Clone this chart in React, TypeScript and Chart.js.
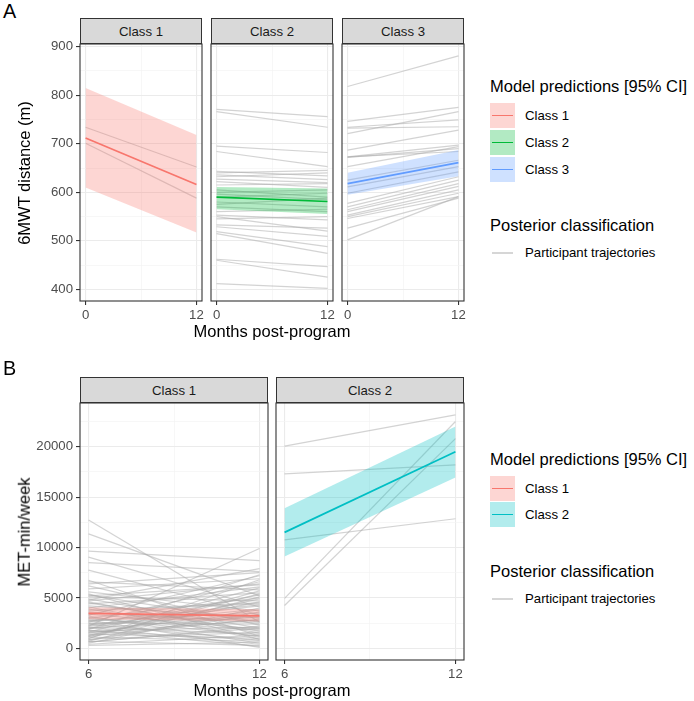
import React, { useEffect, useRef } from "react";
import { Chart, registerables } from "chart.js";
Chart.register(...registerables);

const FONT = '"Liberation Sans", Arial, Helvetica, sans-serif';

// ---------- Panel A: 6MWT distance ----------
const monthsA = [0, 12];
const xTicksA = [0, 6, 12];
const xLabelsA = [0, 12];
const yTicksA = [400, 450, 500, 550, 600, 650, 700, 750, 800, 850, 900];
const yLabelsA = [400, 500, 600, 700, 800, 900];

const a1Pred = [712, 616];
const a1Lo = [610, 517];
const a1Hi = [815, 718];
const a1Start = [734, 701];
const a1End = [652, 588];

const a2Pred = [590, 581];
const a2Lo = [565, 555];
const a2Hi = [611, 608];
const a2Start = [771, 766, 695, 684, 643, 640, 636, 632, 627, 622, 615, 605, 600, 596, 590, 580, 575, 570, 560, 553, 550, 545, 533, 529, 519, 515, 462, 460, 412];
const a2End = [756, 734, 682, 653, 634, 645, 626, 640, 620, 610, 618, 590, 605, 585, 598, 570, 588, 560, 565, 543, 520, 550, 526, 509, 488, 474, 447, 425, 402];

const a3Pred = [618, 661];
const a3Lo = [595, 633];
const a3Hi = [640, 687];
const a3Start = [818, 746, 732, 721, 734, 687, 673, 672, 673, 653, 625, 611, 598, 577, 570, 564, 560, 553, 550, 546, 526, 502];
const a3End = [881, 775, 735, 766, 749, 728, 697, 690, 684, 694, 666, 653, 642, 632, 625, 618, 612, 605, 598, 591, 588, 591];

// ---------- Panel B: MET-min/week ----------
const monthsB = [6, 12];
const xTicksB = [6, 9, 12];
const xLabelsB = [6, 12];
const yTicksB = [0, 2500, 5000, 7500, 10000, 12500, 15000, 17500, 20000, 22500];
const yLabelsB = [0, 5000, 10000, 15000, 20000];

const b1Pred = [3470, 3210];
const b1Lo = [2880, 2650];
const b1Hi = [4070, 3870];
const b1Start = [12730, 11350, 9650, 9050, 8500, 7750, 6750, 6600, 6400, 6200, 5900, 5600, 5400, 5200, 5100, 4900, 4800, 4600, 4400, 4200, 4000, 3900, 3700, 3500, 3300, 3200, 3000, 2900, 2750, 2600, 2500, 2400, 2300, 2200, 2100, 2000, 1900, 1800, 1700, 1600, 1500, 1400, 1300, 1200, 1100, 1000, 900, 800, 700, 600, 500, 400, 300, 1900, 2800, 3600, 1250, 4500, 2200, 700, 3400, 2650, 1550, 4100, 850, 5300, 2050, 1150, 3050, 4700, 650, 1750, 2450, 3800, 950];
const b1End = [2600, 5200, 8700, 4100, 7600, 3300, 1200, 5800, 7500, 2300, 6900, 3700, 900, 6300, 4700, 2000, 7900, 1500, 5500, 3000, 6100, 1100, 4400, 2700, 7200, 500, 5000, 1800, 3500, 6600, 2400, 800, 4200, 9900, 1400, 3100, 5300, 200, 2100, 6000, 3800, 1000, 4600, 2900, 700, 5700, 1600, 3400, 300, 2200, 4000, 1300, 600, 7300, 100, 2500, 4900, 1700, 3900, 5100, 1900, 4300, 2800, 900, 3600, 2600, 400, 5400, 1200, 6400, 2000, 800, 3200, 4500, 6800];

const b2Pred = [11500, 19500];
const b2Lo = [9100, 16950];
const b2Hi = [13900, 22000];
const b2Start = [20050, 17300, 10750, 4950, 4250];
const b2End = [23150, 18200, 12850, 22500, 20800];

const COL1 = "#F8766D";
const COL2A = "#00BA38";
const COL3A = "#619CFF";
const COL2B = "#00BFC4";
const alpha = (hex: string, a: number) => {
  const n = parseInt(hex.slice(1), 16);
  return `rgba(${(n >> 16) & 255},${(n >> 8) & 255},${n & 255},${a})`;
};
const TRAJ = "rgba(170,170,170,0.52)";
const GRID_MAJ = "#EBEBEB";
const GRID_MIN = "#F3F3F3";

const borderPlugin = {
  id: "panelBorder",
  afterDraw(chart: any) {
    const { ctx, chartArea: a } = chart;
    ctx.save();
    ctx.strokeStyle = "#333333";
    ctx.lineWidth = 1.1;
    ctx.strokeRect(a.left, a.top, a.right - a.left, a.bottom - a.top);
    ctx.restore();
  },
};

type FacetProps = {
  left: number; top: number; w: number; h: number; axisW: number;
  xs: number[]; xMin: number; xMax: number; xTicks: number[]; xLabels: number[];
  yMin: number; yMax: number; yTicks: number[]; yLabels: number[];
  starts: number[]; ends: number[]; pred: number[]; lo: number[]; hi: number[];
  color: string;
};

function Facet(p: FacetProps) {
  const ref = useRef<HTMLCanvasElement>(null);
  const PADL = p.axisW ? 0 : 4;
  const PADR = 12;
  const PADT = 4;
  const XH = 26;
  const cw = p.axisW + PADL + p.w + PADR;
  const ch = PADT + p.h + XH;
  useEffect(() => {
    const pts = (ys: number[]) => p.xs.map((x, i) => ({ x, y: ys[i] }));
    const traj = p.starts.map((s, i) => ({
      data: [{ x: p.xs[0], y: s }, { x: p.xs[1], y: p.ends[i] }],
      borderColor: TRAJ, borderWidth: 1.2, pointRadius: 0, fill: false, order: 2,
    }));
    const majX = (v: any) => p.xLabels.includes(v);
    const majY = (v: any) => p.yLabels.includes(v);
    const showY = p.axisW > 0;
    const chart = new Chart(ref.current as HTMLCanvasElement, {
      type: "line",
      data: {
        datasets: [
          { data: pts(p.pred), borderColor: p.color, borderWidth: 1.7, pointRadius: 0, fill: false, order: 0 },
          { data: pts(p.hi), borderWidth: 0, borderColor: "rgba(0,0,0,0)", pointRadius: 0, backgroundColor: alpha(p.color, 0.3), fill: "+1", order: 1 },
          { data: pts(p.lo), borderWidth: 0, borderColor: "rgba(0,0,0,0)", pointRadius: 0, fill: false, order: 1 },
          ...traj,
        ] as any,
      },
      options: {
        animation: false,
        responsive: false,
        devicePixelRatio: 1,
        layout: { padding: { left: PADL, right: PADR, top: PADT, bottom: 0 } },
        plugins: { legend: { display: false }, tooltip: { enabled: false } },
        elements: { line: { tension: 0 } },
        scales: {
          x: {
            type: "linear", min: p.xMin, max: p.xMax,
            afterBuildTicks: (s: any) => { s.ticks = p.xTicks.map((v) => ({ value: v })); },
            afterFit: (s: any) => { s.height = XH; s.paddingLeft = 0; s.paddingRight = 0; },
            ticks: {
              autoSkip: false, maxRotation: 0, minRotation: 0, padding: 2, color: "#4D4D4D",
              font: { family: FONT, size: 13.2 },
              callback: (v: any) => (majX(v) ? String(v) : ""),
            },
            grid: {
              color: (c: any) => (majX(c.tick?.value) ? GRID_MAJ : GRID_MIN),
              lineWidth: (c: any) => (majX(c.tick?.value) ? 1.1 : 0.7),
              tickColor: (c: any) => (majX(c.tick?.value) ? "#333333" : "rgba(0,0,0,0)"),
              tickLength: 4, tickWidth: 1.1,
            },
            border: { display: false },
          },
          y: {
            type: "linear", min: p.yMin, max: p.yMax,
            afterBuildTicks: (s: any) => { s.ticks = p.yTicks.map((v) => ({ value: v })); },
            afterFit: (s: any) => { s.width = p.axisW; s.paddingTop = 0; s.paddingBottom = 0; },
            ticks: {
              display: showY, autoSkip: false, padding: 3, color: "#4D4D4D",
              font: { family: FONT, size: 13.2 },
              callback: (v: any) => (majY(v) ? String(v) : ""),
            },
            grid: {
              drawTicks: showY,
              color: (c: any) => (majY(c.tick?.value) ? GRID_MAJ : GRID_MIN),
              lineWidth: (c: any) => (majY(c.tick?.value) ? 1.1 : 0.7),
              tickColor: (c: any) => (majY(c.tick?.value) ? "#333333" : "rgba(0,0,0,0)"),
              tickLength: 4, tickWidth: 1.1,
            },
            border: { display: false },
          },
        },
      } as any,
      plugins: [borderPlugin],
    });
    return () => chart.destroy();
  }, []);
  return (
    <canvas
      ref={ref}
      width={cw}
      height={ch}
      style={{ position: "absolute", left: p.left - p.axisW - PADL, top: p.top - PADT, width: cw, height: ch }}
    />
  );
}

function Txt(props: { x: number; y: number; size: number; color?: string; anchor?: string; rotate?: boolean; children: any }) {
  const { x, y, size, color = "#000", anchor = "start", rotate = false, children } = props;
  const tx = anchor === "middle" ? "-50%" : anchor === "end" ? "-100%" : "0";
  return (
    <div
      style={{
        position: "absolute", left: x, top: y, fontSize: size, lineHeight: 1, color,
        whiteSpace: "nowrap", fontFamily: FONT,
        transform: rotate ? "translate(-50%,-50%) rotate(-90deg)" : `translate(${tx},-50%)`,
      }}
    >
      {children}
    </div>
  );
}

function Strip(props: { x: number; y: number; w: number; label: string }) {
  return (
    <div
      style={{
        position: "absolute", left: props.x, top: props.y, width: props.w, height: 26,
        boxSizing: "border-box", border: "1.1px solid #333333", background: "#D9D9D9",
        display: "flex", alignItems: "center", justifyContent: "center",
        fontFamily: FONT, fontSize: 13.2, color: "#1A1A1A",
      }}
    >
      {props.label}
    </div>
  );
}

function Key(props: { x: number; y: number; color: string; label: string }) {
  return (
    <>
      <div style={{ position: "absolute", left: props.x, top: props.y, width: 25, height: 25, background: alpha(props.color, 0.3) }}>
        <div style={{ position: "absolute", left: 2, top: 11.7, width: 21, height: 1.7, background: props.color }} />
      </div>
      <Txt x={props.x + 35} y={props.y + 12.5} size={13.2}>{props.label}</Txt>
    </>
  );
}

function TrajKey(props: { x: number; y: number }) {
  return (
    <>
      <div style={{ position: "absolute", left: props.x + 2, top: props.y - 0.6, width: 21, height: 1.3, background: "#D6D6D6" }} />
      <Txt x={props.x + 35} y={props.y} size={13.2}>Participant trajectories</Txt>
    </>
  );
}

export default function App() {
  const aLefts = [80, 211, 342];
  const aW = 122;
  const aTop = 44;
  const aH = 257;
  const bLefts = [80, 276];
  const bW = 188;
  const bTop = 403;
  const bH = 257;
  const commonA = { w: aW, h: aH, top: aTop, xs: monthsA, xMin: -0.6, xMax: 12.6, xTicks: xTicksA, xLabels: xLabelsA, yMin: 376, yMax: 905.5, yTicks: yTicksA, yLabels: yLabelsA };
  const commonB = { w: bW, h: bH, top: bTop, xs: monthsB, xMin: 5.7, xMax: 12.3, xTicks: xTicksB, xLabels: xLabelsB, yMin: -1160, yMax: 24335, yTicks: yTicksB, yLabels: yLabelsB };
  return (
    <div style={{ position: "absolute", left: 0, top: 0, width: 694, height: 701, background: "#fff", overflow: "hidden", fontFamily: FONT }}>
      {/* Panel A */}
      <Txt x={3} y={11.7} size={19.8}>A</Txt>
      {["Class 1", "Class 2", "Class 3"].map((l, i) => (
        <Strip key={l} x={aLefts[i]} y={18} w={aW} label={l} />
      ))}
      <Facet {...commonA} left={aLefts[0]} axisW={80} starts={a1Start} ends={a1End} pred={a1Pred} lo={a1Lo} hi={a1Hi} color={COL1} />
      <Facet {...commonA} left={aLefts[1]} axisW={0} starts={a2Start} ends={a2End} pred={a2Pred} lo={a2Lo} hi={a2Hi} color={COL2A} />
      <Facet {...commonA} left={aLefts[2]} axisW={0} starts={a3Start} ends={a3End} pred={a3Pred} lo={a3Lo} hi={a3Hi} color={COL3A} />
      <Txt x={24} y={172.5} size={16.5} rotate>6MWT distance (m)</Txt>
      <Txt x={272} y={330.5} size={16.5} anchor="middle">Months post-program</Txt>

      <Txt x={490} y={85.5} size={16.5}>Model predictions [95% CI]</Txt>
      <Key x={490} y={103} color={COL1} label="Class 1" />
      <Key x={490} y={130} color={COL2A} label="Class 2" />
      <Key x={490} y={157} color={COL3A} label="Class 3" />
      <Txt x={490} y={225} size={16.5}>Posterior classification</Txt>
      <TrajKey x={490} y={253} />

      {/* Panel B */}
      <Txt x={3} y={369} size={19.8}>B</Txt>
      {["Class 1", "Class 2"].map((l, i) => (
        <Strip key={l} x={bLefts[i]} y={377} w={bW} label={l} />
      ))}
      <Facet {...commonB} left={bLefts[0]} axisW={80} starts={b1Start} ends={b1End} pred={b1Pred} lo={b1Lo} hi={b1Hi} color={COL1} />
      <Facet {...commonB} left={bLefts[1]} axisW={0} starts={b2Start} ends={b2End} pred={b2Pred} lo={b2Lo} hi={b2Hi} color={COL2B} />
      <Txt x={23.5} y={531.5} size={16.5} rotate>MET-min/week</Txt>
      <Txt x={272} y={690} size={16.5} anchor="middle">Months post-program</Txt>

      <Txt x={490} y={458.5} size={16.5}>Model predictions [95% CI]</Txt>
      <Key x={490} y={476} color={COL1} label="Class 1" />
      <Key x={490} y={502} color={COL2B} label="Class 2" />
      <Txt x={490} y={571} size={16.5}>Posterior classification</Txt>
      <TrajKey x={490} y={599} />
    </div>
  );
}
